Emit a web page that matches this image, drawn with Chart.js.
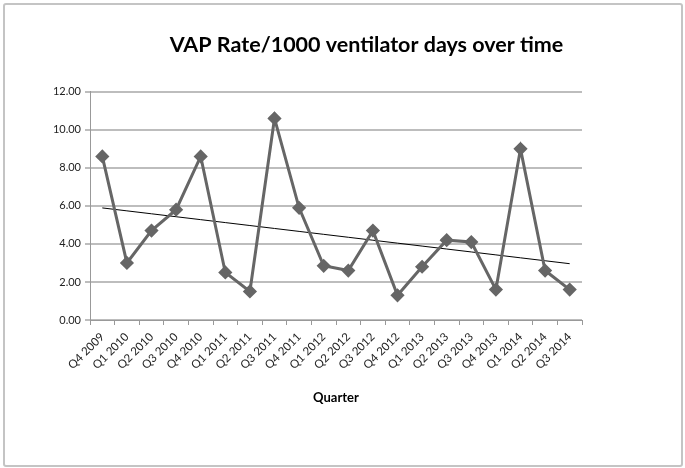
<!DOCTYPE html>
<html>
<head>
<meta charset="utf-8">
<script src="https://cdn.jsdelivr.net/npm/chart.js@4.4.1/dist/chart.umd.min.js"></script>
<style>
  body { margin: 0; background: #fff; }
  #wrap { position: relative; width: 685px; height: 468px; }
  #frame { position: absolute; left: 3px; top: 3px; width: 676px; height: 460px;
           border: 2px solid #c4c4c4; border-radius: 3px; pointer-events: none; }
</style>
</head>
<body>
<div id="wrap">
  <canvas id="vapChart" width="685" height="468"></canvas>
  <div id="frame"></div>
</div>
<script>
const quarters = ["Q4 2009", "Q1 2010", "Q2 2010", "Q3 2010", "Q4 2010", "Q1 2011", "Q2 2011",
    "Q3 2011", "Q4 2011", "Q1 2012", "Q2 2012", "Q3 2012", "Q4 2012", "Q1 2013", "Q2 2013",
    "Q3 2013", "Q4 2013", "Q1 2014", "Q2 2014", "Q3 2014"];
const vapRates = [8.6, 3.0, 4.7, 5.8, 8.6, 2.5, 1.5, 10.6, 5.9, 2.85, 2.6, 4.7, 1.3, 2.8, 4.2,
    4.1, 1.6, 9.0, 2.6, 1.6];

// linear trendline (least squares) from the series
const n = vapRates.length;
const meanX = (n - 1) / 2;
const meanY = vapRates.reduce((a, b) => a + b, 0) / n;
let sxy = 0, sxx = 0;
vapRates.forEach((v, i) => { sxy += (i - meanX) * (v - meanY); sxx += (i - meanX) * (i - meanX); });
const slope = sxy / sxx;
const trend = vapRates.map((v, i) => meanY + slope * (i - meanX));

const font = "Lato, 'Open Sans', sans-serif";

new Chart("vapChart", {
    type: "line",
    data: {
        labels: quarters,
        datasets: [{
            data: vapRates,
            borderColor: "#666",
            backgroundColor: "#666",
            borderWidth: 3,
            pointStyle: "rectRot",
            pointRadius: 5,
            pointHoverRadius: 5,
            tension: 0
        }, {
            data: trend,
            borderColor: "#000",
            borderWidth: 1,
            pointRadius: 0,
            tension: 0
        }]
    },
    options: {
        responsive: false,
        animation: false,
        layout: { padding: { left: 48, right: 0, top: 0, bottom: 0 } },
        plugins: {
            legend: { display: false },
            tooltip: { enabled: false },
            title: {
                display: true,
                text: "VAP Rate/1000 ventilator days over time",
                color: "#000",
                font: { family: font, size: 21.5, weight: "bold" },
                padding: { top: 32, bottom: 34 }
            }
        },
        scales: {
            x: {
                offset: true,
                afterFit: (scale) => { scale.height = 148; },
                grid: { offset: true, drawOnChartArea: false, tickLength: 5, color: "#999" },
                border: { color: "#999", width: 1 },
                ticks: {
                    autoSkip: false,
                    minRotation: 45, maxRotation: 45, color: "#222",
                    font: { family: font, size: 11.5 }, padding: 5
                },
                title: {
                    display: true, text: "Quarter", color: "#000",
                    font: { family: font, size: 13, weight: "bold" },
                    padding: { top: 4, bottom: 62 }
                }
            },
            y: {
                min: 0, max: 12,
                afterFit: (scale) => { scale.width = 42; },
                grid: { color: "#bdbdbd", lineWidth: 2, tickLength: 5 },
                border: { color: "#999", width: 1 },
                ticks: {
                    stepSize: 2, color: "#222", padding: 4,
                    font: { family: font, size: 11 },
                    callback: (v) => v.toFixed(2)
                }
            },
            yRight: {
                position: "right",
                afterFit: (scale) => { scale.width = 103; },
                grid: { display: false },
                border: { display: false },
                ticks: { display: false }
            }
        }
    }
});
</script>
</body>
</html>
